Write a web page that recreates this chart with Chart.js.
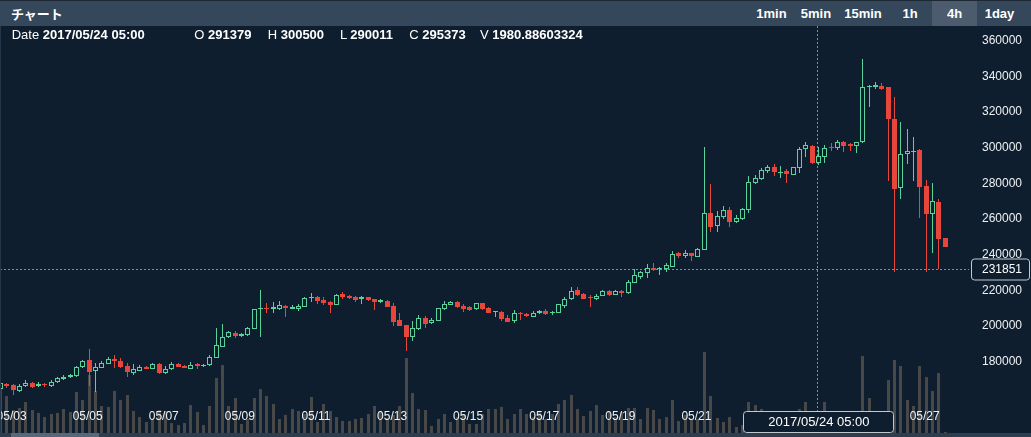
<!DOCTYPE html>
<html>
<head>
<meta charset="utf-8">
<script src="https://cdn.jsdelivr.net/npm/chart.js@4.4.1/dist/chart.umd.min.js"></script>
<style>
html,body{margin:0;padding:0;background:#0f1e2e;width:1031px;height:437px;overflow:hidden;font-family:"Liberation Sans",Arial,sans-serif;}
#header{position:absolute;left:0;top:0;width:1031px;height:26px;background:#34475b;border-top:1px solid #1d2833;box-sizing:border-box;z-index:3;}
#title{position:absolute;left:11px;top:0;line-height:25px;color:#fff;font-weight:bold;font-size:13px;font-family:"Noto Sans CJK JP",sans-serif;}
.btn{position:absolute;top:0;height:25px;line-height:25px;text-align:center;color:#fff;font-weight:bold;font-size:13px;}
.btn.sel{background:#4c5c6e;}
#wrap{position:absolute;left:0;top:26px;width:1031px;height:407px;}
#lborder{position:absolute;left:0;top:26px;width:1px;height:407px;background:#263646;z-index:2;}
.info{position:absolute;top:28px;line-height:14px;font-size:13px;color:#fff;white-space:nowrap;z-index:2;}
.info b{font-weight:bold;}
#scroll{position:absolute;left:0;top:433px;width:1031px;height:4px;background:#2c3e50;}
#thumb{position:absolute;left:11px;top:0;width:88px;height:4px;background:#56687b;}
</style>
</head>
<body>
<div id="header"><div id="title">チャート</div></div>
<div id="wrap"><canvas id="c" width="1031" height="407"></canvas></div>
<div id="lborder"></div>
<div id="scroll"><div id="thumb"></div></div>
<script>
// ---- data (4h candles, JST) ----
const opens = [
164510,167310,166920,163730,166530,167870,166360,167480,166360,168320,
170110,171240,171960,176840,180930,174940,176620,178860,181660,180370,
177570,173810,174940,177180,176060,178690,173480,175720,178690,177570,
176060,178690,177570,177960,182220,188390,193660,196070,194380,194780,
198420,209350,210250,209690,209690,211200,209690,209520,210810,215520,
216410,214560,213440,211930,217760,216800,216410,215290,216080,214950,
213440,214000,211370,203180,200380,193660,198310,204470,201500,202960,
209350,211930,213610,211030,210470,209350,212710,210080,207670,208000,
204470,202620,207440,206710,205200,207110,208570,207110,207440,211200,
214950,220170,217930,216410,214950,216970,219780,217530,219780,218320,
224260,227620,229860,232670,231770,232110,233230,241070,239220,240740,
238830,242590,263490,256040,260920,265010,258280,259960,265010,280310,
282210,287040,288940,285580,286700,284790,288380,299030,301050,291379,
294880,300150,299590,302950,302000,301050,302950,333780,334120,334680,
333780,316010,277510,296230,297680,298640,278460,262600,269660,249150];
const highs = [
168770,168210,167480,167480,169720,168320,168320,168040,169440,171120,
172240,173090,177570,181100,186930,179080,180090,182610,183730,181890,
179080,178690,178300,177570,179250,178970,177570,179810,178970,177850,
179810,178970,178690,183900,198870,201110,197360,197020,195790,199430,
209690,220170,213050,213440,213830,211590,211590,212320,216240,218320,
216800,216240,213830,217760,219050,217200,216800,216800,216410,215290,
215290,214390,212710,207110,200720,202960,206320,205590,204470,210250,
213830,214000,214000,212320,211200,213050,213050,210470,208570,208570,
206320,208960,207840,207440,208230,208790,209350,208570,212490,216080,
222020,221680,218320,217530,217930,220170,220170,220170,220170,225770,
231770,230820,234740,235130,232890,235470,242200,241630,242590,241070,
243540,300490,279410,264450,267250,266520,262210,265960,284230,284620,
288720,290230,290790,289840,287820,289280,300490,303290,301440,300500,
301440,302730,304240,303850,302390,303290,349530,335070,336640,336420,
333950,328510,314500,310410,305760,298920,281820,280310,271000,249480];
const lows = [
163560,165410,161310,162830,165800,165240,165800,165970,165800,167760,
169550,170840,171570,176450,166530,163160,176170,178410,176280,176280,
171570,172520,174490,175610,175610,172810,173090,175330,176730,176280,
175720,175720,177180,177570,181890,188050,193260,193260,193990,194380,
198140,193660,207110,207440,208960,204870,209350,208570,210470,213270,
212320,211760,207440,211590,215120,214950,213440,212320,214170,208960,
212710,210470,200160,199820,186150,191580,197920,198700,201110,202620,
208960,211590,210080,208000,208570,208960,209130,207110,204870,202960,
202060,201500,203350,204870,204870,206710,205990,205990,207110,210250,
214560,216970,214950,210810,214560,216640,216970,217200,216410,217930,
223920,226330,227060,230990,228570,230420,232890,237940,238270,236420,
238500,242310,252840,252840,259790,255650,257890,259570,263490,279410,
281820,285580,284230,282780,280310,284460,285910,294880,290790,290011,
291520,298250,298640,297350,298250,297120,302700,322570,332830,332490,
281430,230420,271170,290790,281430,260360,230420,240740,231940,244100];
const closes = [
167870,166360,164120,166530,168210,165970,167650,166750,168770,170560,
171570,172520,177180,180540,174040,177180,179420,181660,180370,177180,
174210,175720,177180,176060,178690,173480,176060,178520,177180,176620,
178300,177570,178300,182780,189340,193990,196460,194220,195340,199040,
209350,210250,209520,210470,211760,210250,210810,211370,215850,216410,
214170,212710,211760,217360,216410,215520,214560,216080,214560,213610,
214390,210810,202400,200160,193990,198700,204470,201110,203350,209910,
212320,213610,210470,209690,208960,212710,209520,207440,208230,203740,
202400,207110,206550,205590,207440,208400,206710,207840,212150,215120,
219780,217360,215290,215520,216800,219780,217360,219780,218320,224820,
228570,230090,232500,231380,232500,234350,240350,239220,240740,239220,
243150,263490,255650,261640,265010,258450,260360,265570,280530,282780,
287430,289110,286140,286310,285020,288940,299030,301440,291180,295373,
299590,299590,303290,301050,301050,302950,333780,334680,335070,332830,
315840,276780,296230,298080,298250,278070,262770,270050,248750,244440];
const volumes = [
4500,3670,2270,2500,3100,2330,2030,1570,1870,2030,
2370,2100,4100,3270,5770,4200,2670,2600,4170,3270,
3770,2170,1570,1100,1530,2330,2200,1000,770,1030,
2830,2070,770,2670,5530,6770,2700,3530,870,1430,
3530,4370,3700,2930,1430,1770,2430,2200,1870,3600,
1100,2870,2200,1600,1170,1200,1430,1500,1870,2670,
2200,1530,1770,2670,7500,4030,2430,2270,700,1430,
1930,1100,1600,1870,930,930,1870,2370,2370,2600,
1430,1870,2430,1930,1600,2100,1430,1930,2930,3270,
3770,2430,1670,2170,2770,1770,2100,1600,2100,2530,
2530,1430,2530,2330,1370,1600,3270,1200,1770,1270,
1430,8130,3670,1530,1100,1600,600,770,3100,2770,
2430,1500,1800,1400,1600,1900,2370,3100,2000,1980.88603324,
3070,1500,1700,1300,1100,1600,7670,3530,1800,1900,
5330,7330,6670,3270,2700,6670,5600,4200,6000,100];
const dayLabels = ['05/03','05/05','05/07','05/09','05/11','05/13','05/15','05/17','05/19','05/21','05/23','05/25','05/27'];
const priceTicks = [180000,200000,220000,240000,260000,280000,300000,320000,340000,360000];
const firstCandle = Date.UTC(2017, 4, 2, 17, 0);
const cursorIndex = 129;
const cursorPrice = 231851;

// ---- derived ----
const STEP = 4 * 3600 * 1000;
const p2 = n => String(n).padStart(2, '0');
const categories = opens.map((_, i) => {
  const d = new Date(firstCandle + i * STEP);
  return d.getUTCFullYear() + '/' + p2(d.getUTCMonth() + 1) + '/' + p2(d.getUTCDate()) + ' ' + p2(d.getUTCHours()) + ':' + p2(d.getUTCMinutes());
});
const dayTicks = dayLabels.map(lab => {
  const i = categories.findIndex(c => c.slice(5, 10) === lab);
  const hour = parseInt(categories[i].slice(11, 13), 10);
  return { value: i - hour / 4, label: lab };
});

// header buttons
const buttons = [['1min',749,45],['5min',794,44],['15min',838,50],['1h',888,44],['4h',932,45,true],['1day',977,45]];
const hdr = document.getElementById('header');
buttons.forEach(b => {
  const e = document.createElement('div');
  e.className = 'btn' + (b[3] ? ' sel' : '');
  e.style.left = b[1] + 'px'; e.style.width = b[2] + 'px';
  e.textContent = b[0];
  hdr.appendChild(e);
});
// info row
const infoItems = [
  ['Date', categories[cursorIndex], 11.7],
  ['O', String(opens[cursorIndex]), 194.3],
  ['H', String(highs[cursorIndex]), 267.7],
  ['L', String(lows[cursorIndex]), 340],
  ['C', String(closes[cursorIndex]), 409.3],
  ['V', String(volumes[cursorIndex]), 480]
];
infoItems.forEach(it => {
  const e = document.createElement('div');
  e.className = 'info';
  e.style.left = it[2] + 'px';
  e.innerHTML = it[0] + ' <b>' + it[1] + '</b>';
  document.body.appendChild(e);
});

const GREEN = '#5ad29c', RED = '#e8453b', BG = '#0f1e2e', VOL = '#484848';
const up = i => closes[i] >= opens[i];
const FONT = '"Liberation Sans", Arial, sans-serif';

const snap = {
  id: 'snap',
  beforeDatasetsDraw(chart) {
    chart.data.datasets.forEach((ds, di) => {
      const meta = chart.getDatasetMeta(di);
      const w = ds.barThickness;
      meta.data.forEach(el => {
        el.x = (w % 2 === 1) ? Math.floor(el.x) + 0.5 : Math.round(el.x);
        el.y = Math.round(el.y);
        el.base = Math.round(el.base);
        if (Math.abs(el.base - el.y) < 1) el.y = el.base - 1;
      });
    });
  }
};

function roundRect(ctx, x, y, w, h, r) {
  ctx.beginPath();
  ctx.moveTo(x + r, y);
  ctx.lineTo(x + w - r, y); ctx.arcTo(x + w, y, x + w, y + r, r);
  ctx.lineTo(x + w, y + h - r); ctx.arcTo(x + w, y + h, x + w - r, y + h, r);
  ctx.lineTo(x + r, y + h); ctx.arcTo(x, y + h, x, y + h - r, r);
  ctx.lineTo(x, y + r); ctx.arcTo(x, y, x + r, y, r);
  ctx.closePath();
}

const crosshair = {
  id: 'crosshair',
  beforeDatasetsDraw(chart) {
    const { ctx, chartArea: a, scales: { x, y } } = chart;
    const px = Math.round(x.getPixelForValue(cursorIndex)) - 0.5;
    const py = Math.round(y.getPixelForValue(cursorPrice)) + 0.5;
    ctx.save();
    ctx.strokeStyle = 'rgba(150,155,160,0.9)';
    ctx.lineWidth = 1;
    ctx.setLineDash([2, 2]);
    ctx.beginPath();
    ctx.moveTo(px, a.top); ctx.lineTo(px, a.bottom);
    ctx.moveTo(a.left, py); ctx.lineTo(a.right, py);
    ctx.stroke();
    ctx.restore();
  },
  afterDraw(chart) {
    const { ctx, chartArea: a, scales: { x, y } } = chart;
    const px = x.getPixelForValue(cursorIndex);
    const py = Math.round(y.getPixelForValue(cursorPrice)) + 0.5;
    ctx.save();
    ctx.lineWidth = 1;
    ctx.strokeStyle = '#c4c8cc';
    ctx.fillStyle = BG;
    // y label
    roundRect(ctx, a.right + 2.5, py - 10.5, 58, 21, 3);
    ctx.fill(); ctx.stroke();
    ctx.fillStyle = '#ffffff';
    ctx.font = '12px ' + FONT;
    ctx.textBaseline = 'middle';
    ctx.textAlign = 'left';
    ctx.fillText(String(cursorPrice), a.right + 13, py);
    // x label
    ctx.fillStyle = BG;
    roundRect(ctx, Math.round(px - 75) + 0.5, a.bottom - 21.5, 150, 21, 3);
    ctx.fill(); ctx.stroke();
    ctx.fillStyle = '#ffffff';
    ctx.font = '13px ' + FONT;
    ctx.textAlign = 'center';
    ctx.fillText(categories[cursorIndex], px + 0.5, a.bottom - 11);
    ctx.restore();
  }
};

new Chart(document.getElementById('c'), {
  type: 'bar',
  data: {
    datasets: [
      {
        label: 'body',
        data: opens.map((o, i) => ({ x: i, y: [o, closes[i]] })),
        yAxisID: 'y', order: 1, grouped: false,
        barThickness: 5, borderWidth: 1, borderSkipped: false, minBarLength: 1, inflateAmount: 0,
        backgroundColor: c => up(c.dataIndex) ? BG : RED,
        borderColor: c => up(c.dataIndex) ? GREEN : RED
      },
      {
        label: 'wick',
        data: lows.map((l, i) => ({ x: i, y: [l, highs[i]] })),
        yAxisID: 'y', order: 2, grouped: false,
        barThickness: 1, borderWidth: 0, minBarLength: 1, inflateAmount: 0,
        backgroundColor: c => up(c.dataIndex) ? GREEN : RED
      },
      {
        label: 'volume',
        data: volumes.map((v, i) => ({ x: i, y: v })),
        yAxisID: 'yv', order: 3, grouped: false,
        barThickness: 3, borderWidth: 0, inflateAmount: 0,
        backgroundColor: VOL
      }
    ]
  },
  options: {
    responsive: false,
    devicePixelRatio: 1,
    animation: false,
    events: [],
    layout: { padding: 0, autoPadding: false },
    plugins: { legend: { display: false }, tooltip: { enabled: false } },
    scales: {
      x: {
        type: 'linear',
        offset: false,
        min: -0.079, max: 152.74,
        bounds: 'data',
        grid: { display: false, drawTicks: false, offset: false },
        border: { display: false },
        afterBuildTicks: s => { s.ticks = dayTicks.map(t => ({ value: t.value })); },
        afterFit: s => { s.height = 0; s.paddingLeft = 0; s.paddingRight = 0; },
        ticks: {
          z: 1, mirror: true, padding: 9.5, maxRotation: 0, minRotation: 0, autoSkip: false,
          color: '#eef1f4', font: { size: 12, family: FONT },
          callback: v => { const t = dayTicks.find(d => Math.abs(d.value - v) < 1e-6); return t ? t.label : ''; }
        }
      },
      y: {
        type: 'linear', position: 'right',
        min: 140000, max: 368140,
        bounds: 'data',
        grid: { display: false, drawTicks: false },
        border: { display: false },
        afterBuildTicks: s => { s.ticks = priceTicks.map(v => ({ value: v })); },
        afterFit: s => { s.width = 62; s.paddingTop = 0; s.paddingBottom = 0; },
        ticks: {
          padding: 13, color: '#eef1f4', font: { size: 12, family: FONT },
          callback: v => String(v)
        }
      },
      yv: {
        type: 'linear', display: false, min: 0, max: 40700
      }
    }
  },
  plugins: [snap, crosshair]
});
</script>
</body>
</html>
